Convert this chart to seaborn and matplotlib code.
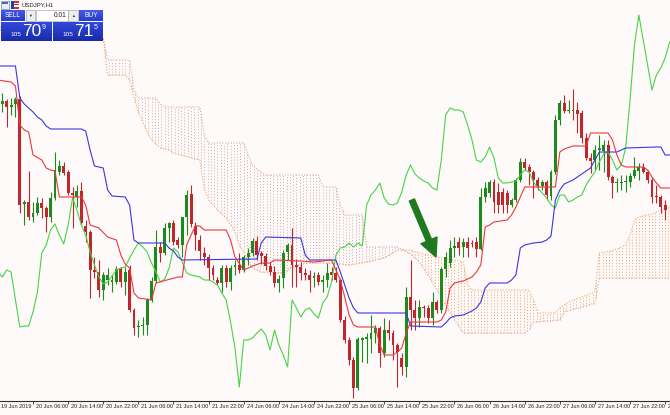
import numpy as np
import matplotlib
matplotlib.use("Agg")
import matplotlib.pyplot as plt
import seaborn as sns
from matplotlib.patches import Rectangle
from matplotlib import transforms

sns.set_theme(style="white")
plt.rcParams['font.family'] = ['Liberation Sans', 'DejaVu Sans']

# ---------------- data (USDJPY, H1) ----------------
bar_index = list(range(1, 153))
opens = [108.280,108.295,108.265,108.280,108.305,107.780,107.790,107.715,107.735,107.785,
107.760,107.715,107.810,107.940,107.970,107.940,107.835,107.815,107.845,107.670,
107.640,107.450,107.440,107.350,107.400,107.390,107.390,107.455,107.390,107.450,
107.250,107.165,107.170,107.175,107.300,107.395,107.565,107.535,107.660,107.685,
107.600,107.575,107.715,107.830,107.670,107.600,107.535,107.515,107.460,107.400,
107.385,107.460,107.390,107.465,107.475,107.450,107.515,107.535,107.595,107.535,
107.520,107.470,107.440,107.385,107.410,107.540,107.575,107.475,107.465,107.435,
107.425,107.410,107.425,107.390,107.400,107.440,107.435,107.400,107.200,107.100,
107.000,106.860,107.100,107.105,107.105,107.135,107.160,107.035,107.150,107.135,
107.075,107.010,106.965,107.315,107.250,107.210,107.265,107.260,107.210,107.290,
107.250,107.455,107.485,107.560,107.590,107.565,107.590,107.585,107.590,107.555,
107.815,107.835,107.890,107.840,107.840,107.835,107.775,107.800,107.900,107.990,
107.965,107.940,107.900,107.870,107.890,107.820,107.940,108.200,108.285,108.245,
108.250,108.250,108.235,108.110,108.010,108.000,108.050,108.045,108.075,107.915,
107.885,107.885,107.890,107.890,107.920,107.945,107.965,107.940,107.900,107.820,
107.815,107.775]
highs = [108.335,108.305,108.310,108.315,108.320,107.800,107.945,107.790,107.815,107.810,
107.770,107.840,108.040,108.000,107.990,107.950,107.865,107.875,107.890,107.700,
107.650,107.515,107.500,107.440,107.460,107.425,107.470,107.465,107.465,107.475,
107.260,107.200,107.215,107.310,107.415,107.650,107.590,107.685,107.690,107.700,
107.615,107.715,107.850,107.875,107.690,107.625,107.565,107.530,107.475,107.415,
107.475,107.475,107.475,107.500,107.535,107.525,107.560,107.610,107.620,107.545,
107.535,107.490,107.470,107.425,107.550,107.585,107.660,107.505,107.490,107.460,
107.450,107.440,107.440,107.425,107.485,107.465,107.465,107.410,107.220,107.115,
107.015,107.115,107.115,107.135,107.225,107.175,107.170,107.210,107.200,107.150,
107.085,107.035,107.365,107.500,107.300,107.300,107.275,107.275,107.340,107.300,
107.465,107.540,107.600,107.615,107.615,107.610,107.615,107.600,107.615,107.860,
107.890,107.900,107.905,107.885,107.860,107.850,107.810,107.910,108.010,108.010,
107.980,107.950,107.915,107.900,107.900,107.950,108.225,108.300,108.325,108.300,
108.355,108.290,108.250,108.135,108.035,108.075,108.125,108.100,108.100,107.925,
107.910,107.925,107.925,107.935,108.015,107.985,107.985,107.950,107.910,107.875,
107.825,107.800]
lows = [108.240,108.165,108.225,108.215,107.735,107.675,107.700,107.690,107.725,107.710,
107.640,107.690,107.800,107.925,107.925,107.825,107.660,107.765,107.675,107.590,
107.310,107.410,107.315,107.300,107.375,107.340,107.380,107.365,107.325,107.240,
107.125,107.115,107.125,107.125,107.290,107.385,107.490,107.525,107.590,107.575,
107.560,107.515,107.625,107.665,107.550,107.500,107.475,107.400,107.400,107.375,
107.340,107.365,107.350,107.425,107.435,107.440,107.475,107.520,107.500,107.480,
107.450,107.425,107.365,107.340,107.360,107.500,107.365,107.365,107.400,107.400,
107.340,107.365,107.375,107.340,107.365,107.400,107.390,107.190,107.085,106.975,
106.810,106.850,106.990,106.985,107.035,107.085,106.965,107.015,107.100,107.000,
106.865,106.925,106.915,107.150,107.150,107.165,107.215,107.185,107.175,107.235,
107.235,107.415,107.465,107.515,107.525,107.515,107.515,107.565,107.515,107.550,
107.790,107.815,107.735,107.735,107.735,107.735,107.765,107.790,107.890,107.950,
107.875,107.810,107.850,107.850,107.800,107.800,107.930,108.175,108.235,108.235,
108.200,108.135,108.085,108.000,107.935,107.950,107.950,107.940,107.900,107.810,
107.840,107.850,107.840,107.865,107.910,107.900,107.935,107.885,107.785,107.785,
107.735,107.700]
closes = [108.295,108.265,108.275,108.305,107.775,107.790,107.715,107.735,107.785,107.760,
107.715,107.810,107.950,107.970,107.935,107.835,107.825,107.845,107.685,107.640,
107.450,107.440,107.350,107.425,107.425,107.400,107.455,107.390,107.440,107.250,
107.160,107.170,107.175,107.300,107.395,107.565,107.535,107.660,107.685,107.590,
107.575,107.715,107.825,107.680,107.625,107.545,107.515,107.460,107.425,107.385,
107.460,107.390,107.460,107.475,107.450,107.515,107.535,107.595,107.525,107.520,
107.470,107.440,107.385,107.405,107.535,107.575,107.475,107.465,107.435,107.425,
107.400,107.420,107.390,107.400,107.435,107.425,107.400,107.200,107.100,107.000,
106.860,107.105,107.110,107.115,107.135,107.160,107.035,107.150,107.135,107.075,
107.040,106.965,107.315,107.250,107.210,107.265,107.260,107.210,107.290,107.250,
107.455,107.515,107.560,107.570,107.560,107.590,107.560,107.580,107.555,107.815,
107.860,107.890,107.790,107.775,107.775,107.775,107.800,107.900,107.990,107.960,
107.940,107.900,107.870,107.890,107.825,107.940,108.200,108.285,108.245,108.250,
108.245,108.230,108.110,108.010,107.995,108.050,108.060,108.075,107.915,107.885,
107.890,107.890,107.895,107.920,107.950,107.965,107.940,107.900,107.815,107.815,
107.765,107.750]

# Ichimoku lines (vertices)
tenkan_bars = [0,3,4,5,6,7,8,10,11,12,13,14,19,20,21,23,25,27,28,29,30,31,32,35,36,41,42,43,44,45,
               46,47,52,53,54,56,57,58,60,62,63,69,72,76,77,78,79,80,81,82,86,87,88,90,91,92,93,94,100,101,
               102,103,104,106,108,109,110,111,112,113,116,117,118,119,120,127,128,129,131,134,135,139,140,141,142,143,
               147,148,149,150,151,153]
tenkan_vals = [108.400,108.390,108.370,108.175,108.150,108.140,108.025,108.000,107.960,107.950,
               107.945,107.815,107.815,107.775,107.675,107.660,107.615,107.600,107.525,107.480,
               107.460,107.335,107.310,107.300,107.385,107.415,107.415,107.575,107.625,107.670,
               107.670,107.650,107.650,107.600,107.515,107.450,107.460,107.470,107.485,107.485,
               107.500,107.495,107.490,107.500,107.450,107.400,107.315,107.225,107.175,107.165,
               107.165,107.075,107.025,107.025,107.040,107.060,107.135,107.190,107.190,107.200,
               107.240,107.360,107.385,107.395,107.415,107.440,107.475,107.665,107.675,107.690,
               107.700,107.725,107.765,107.815,107.865,107.865,108.040,108.055,108.070,108.070,
               108.135,108.135,108.100,108.025,107.975,107.965,107.965,107.950,107.915,107.885,
               107.860,107.860]
kijun_bars = [0,4,5,6,7,8,9,10,11,12,19,20,21,22,24,25,26,29,30,31,32,38,39,40,41,42,59,60,61,69,
              70,71,77,78,79,80,81,82,93,94,101,102,103,104,106,107,108,109,110,111,112,116,117,118,119,120,
              122,124,125,126,127,128,129,131,133,135,136,137,141,143,150,151,152,153]
kijun_vals = [108.470,108.470,108.310,108.280,108.260,108.240,108.215,108.200,108.170,108.155,
              108.155,108.145,108.050,107.970,107.960,107.850,107.820,107.815,107.775,107.600,
              107.585,107.585,107.560,107.545,107.515,107.500,107.505,107.585,107.615,107.610,
              107.525,107.500,107.500,107.440,107.375,107.310,107.260,107.235,107.235,107.170,
              107.165,107.185,107.210,107.220,107.225,107.235,107.245,107.260,107.290,107.360,
              107.385,107.385,107.400,107.425,107.560,107.575,107.585,107.590,107.600,107.620,
              107.800,107.850,107.880,107.900,107.930,107.960,108.000,108.040,108.040,108.060,
              108.065,108.065,108.025,108.025]
chikou_bars = list(range(0, 154))
chikou_vals = [107.440,107.415,107.450,107.440,107.300,107.165,107.170,107.170,107.240,107.340,
               107.535,107.575,107.650,107.680,107.625,107.580,107.675,107.810,107.750,107.675,
               107.625,107.540,107.475,107.415,107.380,107.390,107.420,107.450,107.460,107.465,
               107.510,107.550,107.585,107.565,107.540,107.485,107.440,107.390,107.405,107.460,
               107.560,107.540,107.490,107.435,107.425,107.420,107.415,107.400,107.400,107.390,
               107.375,107.335,107.300,107.190,107.060,106.865,107.100,107.100,107.110,107.135,
               107.155,107.125,107.050,107.150,107.075,107.025,106.965,107.300,107.260,107.215,
               107.250,107.260,107.230,107.210,107.285,107.315,107.390,107.525,107.560,107.565,
               107.585,107.565,107.585,107.570,107.775,107.825,107.850,107.885,107.810,107.780,
               107.775,107.785,107.840,107.925,107.975,107.930,107.910,107.895,107.885,107.860,
               107.850,108.000,108.225,108.260,108.250,108.250,108.240,108.175,108.100,108.000,
               107.990,108.015,108.065,108.010,107.910,107.885,107.885,107.890,107.895,107.925,
               107.950,107.940,107.890,107.860,107.835,107.810,107.775,107.760,107.825,107.825,
               107.790,107.800,107.815,107.825,107.875,107.910,107.940,107.990,108.030,108.040,
               108.000,107.950,107.975,108.060,108.300,108.575,108.725,108.600,108.475,108.350,
               108.425,108.460,108.510,108.590]
span_a_bars = [0,24,25,29,30,31,32,34,35,37,39,40,46,47,48,50,52,54,55,56,57,58,60,65,67,70,76,80,84,88,
               91,94,96,100,104,106,107,108,121,122,123,127,128,130,133,136,137,140,143,144,145,146,149,151,153]
span_a_vals = [108.650,108.610,108.425,108.425,108.400,108.315,108.240,108.140,108.100,108.060,
               108.050,108.035,108.000,107.860,107.800,107.750,107.710,107.640,107.575,107.540,
               107.490,107.460,107.440,107.435,107.465,107.485,107.485,107.475,107.490,107.510,
               107.550,107.550,107.535,107.515,107.500,107.490,107.375,107.350,107.350,107.300,
               107.235,107.235,107.260,107.290,107.315,107.340,107.535,107.545,107.575,107.625,
               107.700,107.715,107.730,107.750,107.765]
span_b_bars = [0,24,25,30,31,32,36,37,38,46,47,48,56,57,58,60,61,73,74,77,78,79,83,84,91,94,96,98,100,102,
               104,106,120,121,122,128,129,136,137,153]
span_b_vals = [108.675,108.610,108.500,108.500,108.350,108.310,108.310,108.280,108.265,108.265,
               108.125,108.085,108.085,108.025,107.975,107.940,107.925,107.925,107.865,107.865,
               107.775,107.725,107.725,107.565,107.565,107.530,107.490,107.425,107.350,107.275,
               107.200,107.135,107.135,107.150,107.190,107.200,107.240,107.285,107.410,107.410]

tick_bars = list(range(0, 153, 8))
tick_labels = ["19 Jun 2019", "20 Jun 06:00", "20 Jun 14:00", "20 Jun 22:00", "21 Jun 06:00",
               "21 Jun 14:00", "21 Jun 22:00", "24 Jun 06:00", "24 Jun 14:00", "24 Jun 22:00",
               "25 Jun 06:00", "25 Jun 14:00", "25 Jun 22:00", "26 Jun 06:00", "26 Jun 14:00",
               "26 Jun 22:00", "27 Jun 06:00", "27 Jun 14:00", "27 Jun 22:00", "28 Jun 06:00"]

# ---------------- styling ----------------
W, H = 670, 415
BG = '#fffafa'
GREEN = '#1c8a1c'
RED = '#c0272d'
THISTLE = '#d2a8ac'
SANDY = '#f0a060'

fig = plt.figure(figsize=(W / 100, H / 100), dpi=100, facecolor=BG)
ax = fig.add_axes([0, 14 / H, 1, 401 / H])
ax.set_facecolor(BG)

# cloud (dotted histogram between span A and span B)
grid = np.arange(0.5, 153.6, 0.75)
a = np.interp(grid, span_a_bars, span_a_vals)
b = np.interp(grid, span_b_bars, span_b_vals)
lo, hi = np.minimum(a, b), np.maximum(a, b)
upc = a >= b
ax.vlines(grid[upc], lo[upc], hi[upc], colors=SANDY, linestyles=[(0, (1, 2))], lw=0.7, zorder=1)
ax.vlines(grid[~upc], lo[~upc], hi[~upc], colors=THISTLE, linestyles=[(0, (1, 2))], lw=0.7, zorder=1)
ax.plot(span_a_bars, span_a_vals, color=SANDY, lw=0.8, ls=(0, (1, 1.5)), zorder=2)
ax.plot(span_b_bars, span_b_vals, color=THISTLE, lw=0.8, ls=(0, (1, 1.5)), zorder=2)

# candles
x = np.array(bar_index)
o, h, l, c = map(np.array, (opens, highs, lows, closes))
is_up = c >= o
cols = np.where(is_up, GREEN, RED)
ax.vlines(x, l, h, colors=cols, lw=0.8, zorder=4)
ax.bar(x, np.maximum(np.abs(c - o), 0.004), bottom=np.minimum(o, c), width=0.66,
       color=cols, linewidth=0, zorder=5)

# Ichimoku lines
sns.lineplot(x=chikou_bars, y=chikou_vals, ax=ax, color='#44d444', linewidth=0.8,
             estimator=None, sort=False, legend=False, zorder=6)
sns.lineplot(x=kijun_bars, y=kijun_vals, ax=ax, color='#3838dc', linewidth=0.8,
             estimator=None, sort=False, legend=False, zorder=6)
sns.lineplot(x=tenkan_bars, y=tenkan_vals, ax=ax, color='#e8383d', linewidth=0.8,
             estimator=None, sort=False, legend=False, zorder=6)

# arrow annotation
ax.annotate('', xy=(99.8, 107.515), xytext=(94.3, 107.80),
            arrowprops=dict(arrowstyle='simple,head_length=1.3,head_width=1.25,tail_width=0.4',
                            color='#1f7a1f', shrinkA=0, shrinkB=0, mutation_scale=10), zorder=8)

ax.set_xlim(0.478, 153.1)
ax.set_ylim(106.795, 108.80)
ax.set_xlabel('')
ax.set_ylabel('')
for s in ['top', 'left', 'right']:
    ax.spines[s].set_visible(False)
ax.spines['bottom'].set_color('#303030')
ax.spines['bottom'].set_linewidth(0.8)
ax.set_yticks([])
ax.set_xticks([t for t in tick_bars if t >= 0.5])
ax.tick_params(axis='x', direction='out', length=2.3, width=0.6, color='#303030',
               labelbottom=False, bottom=True)

trans = transforms.blended_transform_factory(ax.transData, ax.transAxes)
trans_off = transforms.offset_copy(trans, fig=fig, x=3, y=0, units='dots')
for tb, lab in zip(tick_bars, tick_labels):
    ax.text(tb, -0.0137, lab, transform=trans_off, fontsize=4.0, ha='left', va='center',
            color='#202020', clip_on=False,
            family=['Liberation Sans Narrow', 'Liberation Sans', 'DejaVu Sans'])

# ---------------- one-click trading panel ----------------
def rect(px, py, pw, ph, fc, ec='none', lw=0.0, z=10):
    fig.add_artist(Rectangle((px / W, 1 - (py + ph) / H), pw / W, ph / H,
                             transform=fig.transFigure, fc=fc, ec=ec, lw=lw, zorder=z))

def grad_rect(px, py, pw, ph, c_top, c_bot):
    ct = np.array(matplotlib.colors.to_rgb(c_top))
    cb = np.array(matplotlib.colors.to_rgb(c_bot))
    n = int(ph)
    for i in range(n):
        t = i / max(n - 1, 1)
        rect(px, py + i, pw, 1.05, tuple(ct * (1 - t) + cb * t))

def ftxt(px, py, s, size, color='white', ha='left', va='center', weight='normal'):
    fig.text(px / W, 1 - py / H, s, fontsize=size, color=color, ha=ha, va=va,
             weight=weight, zorder=12)

# title row
rect(1, 1, 8, 8, '#e8eef8', ec='#5a6a9a', lw=0.4)
rect(2, 2, 6, 2, '#4a6ab8')
rect(11, 1, 8, 8, '#2040a0')
rect(14, 1, 5, 8, '#d03030')
rect(14, 3, 5, 1.2, 'white')
rect(14, 5.5, 5, 1.2, 'white')
ftxt(21, 5.2, 'USDJPY,H1', 4.3, color='#202020')

# buttons row
grad_rect(1, 10, 24, 11, '#4258e8', '#2a3cc6')
ftxt(13, 15.6, 'SELL', 4.8, ha='center')
rect(26, 10, 9, 11, '#eeeeee', ec='#9a9a9a', lw=0.4)
ftxt(30.5, 15.6, '\u25BC', 2.8, color='#303030', ha='center')
rect(36, 10, 32, 11, 'white', ec='#9a9a9a', lw=0.4)
ftxt(66, 15.6, '0.01', 4.8, color='#202020', ha='right')
rect(68, 10, 10, 11, '#eeeeee', ec='#9a9a9a', lw=0.4)
ftxt(73, 15.6, '\u25B2', 2.8, color='#303030', ha='center')
grad_rect(79, 10, 24, 11, '#4258e8', '#2a3cc6')
ftxt(91, 15.6, 'BUY', 4.8, ha='center')

# price boxes
grad_rect(1, 22, 51, 19, '#3048dc', '#1a2aa6')
grad_rect(53, 22, 50, 19, '#3048dc', '#1a2aa6')
ftxt(10, 34.5, '105', 4.6)
ftxt(22, 32, '70', 12.5)
ftxt(42, 27.5, '9', 5)
ftxt(62, 34.5, '105', 4.6)
ftxt(74, 32, '71', 12.5)
ftxt(94, 27.5, '5', 5)

fig.savefig('out.png', dpi=100, facecolor=BG)
